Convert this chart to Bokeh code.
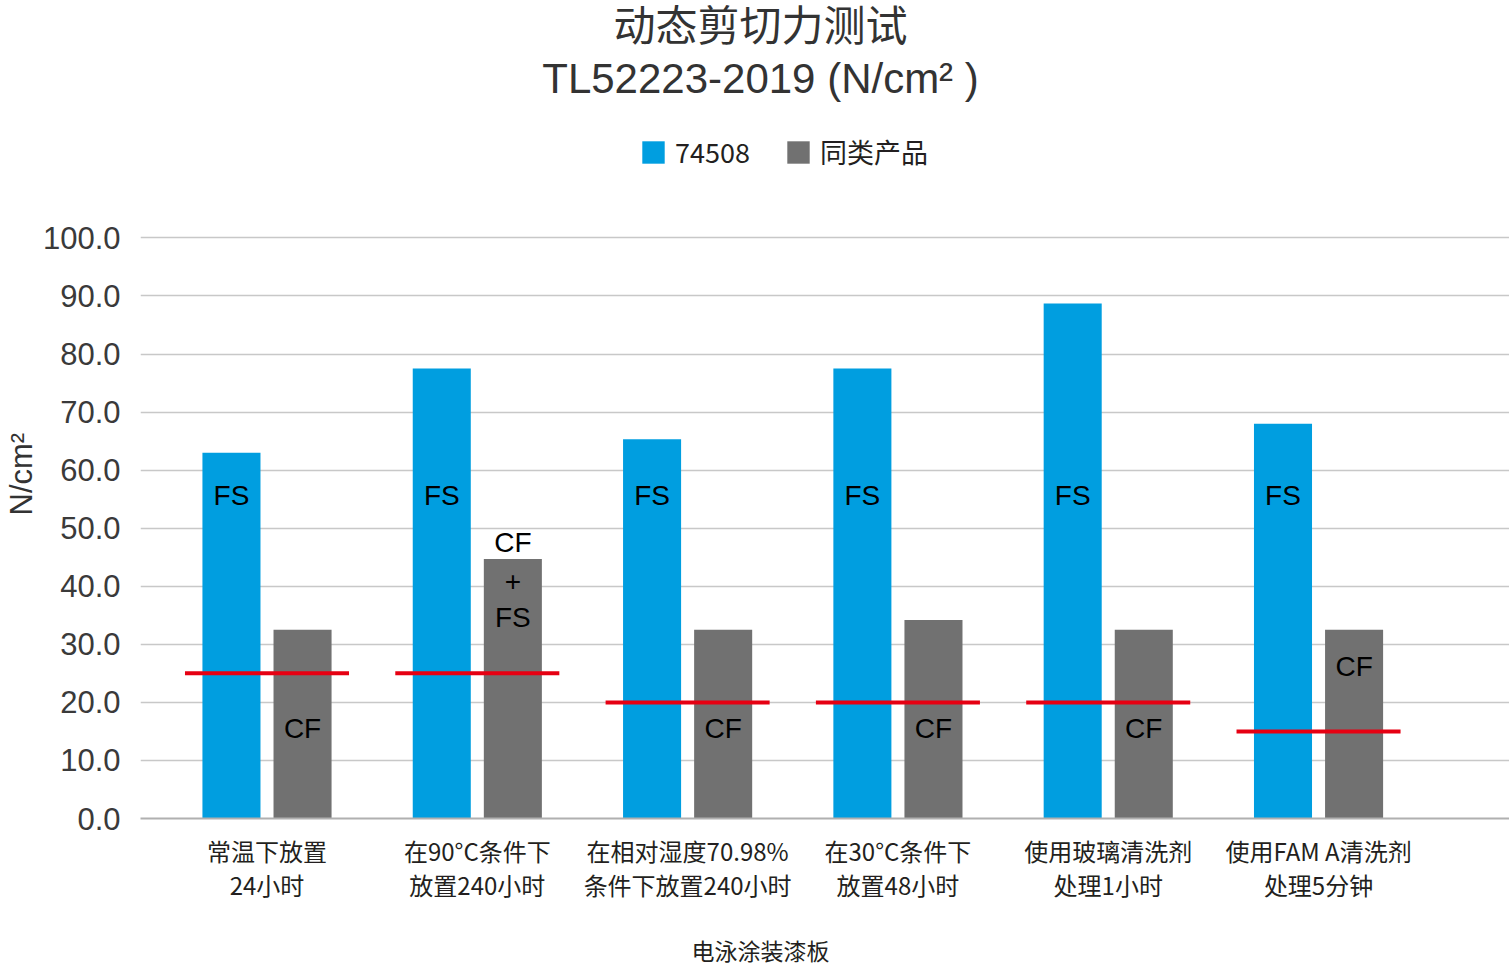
from bokeh.plotting import figure
from bokeh.models import (ColumnDataSource, Range1d, LinearAxis, FixedTicker,
                          NumeralTickFormatter, Label, Legend, LegendItem, Title)
from bokeh.transform import dodge
from bokeh.core.properties import value
from bokeh.embed import file_html
from bokeh.resources import INLINE

# ---------------- data ----------------
categories_line1 = ["常温下放置", "在90°C条件下", "在相对湿度70.98%", "在30°C条件下", "使用玻璃清洗剂", "使用FAM A清洗剂"]
categories_line2 = ["24小时", "放置240小时", "条件下放置240小时", "放置48小时", "处理1小时", "处理5分钟"]
series_names = ["74508", "同类产品"]
values_74508 = [63.0, 77.5, 65.3, 77.5, 88.7, 68.0]
values_similar = [32.5, 44.7, 32.5, 34.2, 32.5, 32.5]
requirement = [25.0, 25.0, 20.0, 20.0, 20.0, 15.0]

labels_74508 = ["FS", "FS", "FS", "FS", "FS", "FS"]
label_y_74508 = [55.7, 55.7, 55.7, 55.7, 55.7, 55.7]
labels_similar = ["CF", "CF", "+", "FS", "CF", "CF", "CF", "CF"]
label_group_similar = [0, 1, 1, 1, 2, 3, 4, 5]
label_y_similar = [15.5, 47.6, 40.9, 34.7, 15.5, 15.5, 15.5, 26.1]

y_ticks = [0, 10, 20, 30, 40, 50, 60, 70, 80, 90, 100]
title_line1 = "动态剪切力测试"
title_line2 = "TL52223-2019 (N/cm² )"
y_title = "N/cm²"
x_title = "电泳涂装漆板"

# ---------------- styles ----------------
BLUE = "#009EE0"
GRAY = "#717171"
RED = "#E60012"
CJK = "Noto Sans CJK SC"
LATIN = "Liberation Sans"
OFF = 0.169
BAR_W = 0.276

idx = list(range(len(categories_line1)))
src = ColumnDataSource(dict(x=idx, a=values_74508, b=values_similar, r=requirement))

# frame spans from the top of the canvas down to the value axis; the space above
# 100 holds the title and legend
p = figure(width=1509, height=966, output_backend="svg", toolbar_location=None,
           x_range=Range1d(-0.6015, 5.908), y_range=Range1d(0, 140.89),
           min_border_left=140, min_border_right=0, min_border_top=0, min_border_bottom=146)
p.title.text = ""
p.outline_line_color = None
p.background_fill_color = "white"
p.border_fill_color = "white"

r1 = p.vbar(x=dodge("x", -OFF), top="a", width=BAR_W, source=src, fill_color=BLUE, line_color=None)
r2 = p.vbar(x=dodge("x", OFF), top="b", width=BAR_W, source=src, fill_color=GRAY, line_color=None)
p.rect(x="x", y="r", width=0.78, height=4, height_units="screen", source=src,
       fill_color=RED, line_color=None)

# bar texts
src_la = ColumnDataSource(dict(x=[i - OFF for i in idx], y=label_y_74508, t=labels_74508))
p.text(x="x", y="y", text="t", source=src_la, text_align="center", text_baseline="middle",
       text_font=value(LATIN), text_font_size="28px", text_color="black")
src_lb = ColumnDataSource(dict(x=[g + OFF for g in label_group_similar], y=label_y_similar, t=labels_similar))
p.text(x="x", y="y", text="t", source=src_lb, text_align="center", text_baseline="middle",
       text_font=value(LATIN), text_font_size="28px", text_color="black")

# y axis
p.yaxis.ticker = FixedTicker(ticks=y_ticks)
p.yaxis.formatter = NumeralTickFormatter(format="0.0")
p.yaxis.axis_line_color = None
p.yaxis.major_tick_line_color = None
p.yaxis.major_tick_out = 0
p.yaxis.major_tick_in = 0
p.yaxis.minor_tick_line_color = None
p.yaxis.minor_tick_out = 0
p.yaxis.major_label_text_font = LATIN
p.yaxis.major_label_text_font_size = "31px"
p.yaxis.major_label_text_color = "#3a3a3a"
p.yaxis.major_label_standoff = 20

p.add_layout(Title(text=y_title, align="left", offset=303, standoff=1,
                   text_font=LATIN, text_font_size="31px", text_font_style="normal",
                   text_color="#333333"), "left")

p.ygrid.ticker = FixedTicker(ticks=y_ticks)
p.ygrid.grid_line_color = "#c8c8c8"
p.ygrid.grid_line_width = 1.5
p.xgrid.grid_line_color = None

# x axis (two lines of labels)
p.xaxis.ticker = FixedTicker(ticks=idx)
p.xaxis.major_label_overrides = {i: t for i, t in zip(idx, categories_line1)}
p.xaxis.axis_line_color = "#b0b0b0"
p.xaxis.axis_line_width = 2
p.xaxis.major_tick_line_color = None
p.xaxis.minor_tick_line_color = None
p.xaxis.major_label_text_font = CJK
p.xaxis.major_label_text_font_size = "24px"
p.xaxis.major_label_text_color = "#231f20"
p.xaxis.major_label_standoff = 8

ax2 = LinearAxis(ticker=FixedTicker(ticks=idx),
                 major_label_overrides={i: t for i, t in zip(idx, categories_line2)})
ax2.axis_line_color = None
ax2.major_tick_line_color = None
ax2.minor_tick_line_color = None
ax2.major_label_text_font = CJK
ax2.major_label_text_font_size = "24px"
ax2.major_label_text_color = "#231f20"
ax2.major_label_standoff = -10
ax2.axis_label = " "
ax2.axis_label_text_font_size = "1px"
ax2.axis_label_standoff = 22
p.add_layout(ax2, "below")

p.add_layout(Title(text=x_title, align="left", offset=551, standoff=0,
                   text_font=CJK, text_font_size="23px", text_font_style="normal",
                   text_color="#231f20"), "below")

# chart title (screen units relative to the frame)
p.add_layout(Label(x=620, y=796, x_units="screen", y_units="screen", text=title_line1,
                   text_align="center", text_baseline="middle", text_font=CJK,
                   text_font_size="42px", text_color="#333333"))
p.add_layout(Label(x=620, y=740, x_units="screen", y_units="screen", text=title_line2,
                   text_align="center", text_baseline="middle", text_font=LATIN,
                   text_font_size="42px", text_color="#333333"))

legend = Legend(items=[LegendItem(label=series_names[0], renderers=[r1]),
                       LegendItem(label=series_names[1], renderers=[r2])],
                location=(499, 647), orientation="horizontal",
                padding=0, margin=0, spacing=34, label_standoff=8,
                glyph_width=28, glyph_height=28,
                label_text_font=CJK, label_text_font_size="27px", label_text_color="#231f20",
                border_line_color=None, background_fill_alpha=0)
p.add_layout(legend, "center")

open("out.html", "w").write(file_html(p, INLINE))
